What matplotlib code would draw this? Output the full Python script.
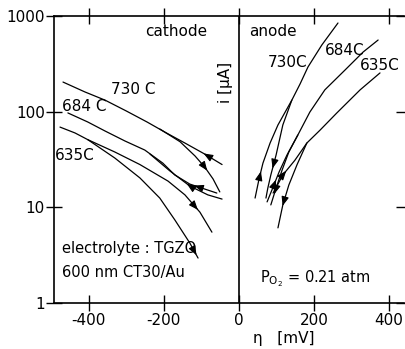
import numpy as np
import matplotlib
matplotlib.use("Agg")
import matplotlib.pyplot as plt

# ---------------- data (eta in mV, i in uA) ----------------
# cathode branches
c730a_x = [-469, -411, -357, -301, -245, -197, -144, -91, -45]
c730a_y = [204, 161, 132, 102, 78, 61, 47, 36, 28]
c730b_x = [-211, -157, -117, -91, -69, -51]
c730b_y = [65.9, 48.5, 34.4, 26.3, 19.8, 14.5]
c684a_x = [-456, -403, -357, -304, -251, -203, -171, -131, -59]
c684a_y = [97, 78, 62.8, 49.4, 39.7, 29, 21.8, 17.5, 14.1]
c684b_x = [-237, -184, -131, -83, -45]
c684b_y = [36, 24, 16.7, 13.5, 12.2]
c635a_x = [-477, -437, -403, -331, -264, -189, -144, -104, -72]
c635a_y = [69, 59.9, 51, 37.9, 28, 18.8, 13.5, 8.9, 5.5]
c635b_x = [-403, -331, -264, -211, -171, -131, -109]
c635b_y = [51, 32.8, 20.3, 12.5, 7.4, 4.24, 2.95]

# anode branches
a730u_x = [43, 53, 64, 83, 104, 141, 163, 184, 221, 264]
a730u_y = [12.5, 19.3, 29, 47, 72.6, 132, 195, 293, 498, 845]
a730d_x = [72, 77, 85, 99, 117, 141]
a730d_y = [12.5, 15.9, 21.8, 35.2, 72.6, 132]
a684u_x = [75, 88, 107, 128, 157, 189, 229, 283, 331, 371]
a684u_y = [11.4, 15.2, 23.4, 35.2, 57, 99, 169, 273, 420, 561]
a684d_x = [85, 99, 115, 133, 157]
a684d_y = [10.6, 15.9, 24.5, 37.9, 57]
a635u_x = [91, 104, 117, 149, 181, 216, 261, 323, 376]
a635u_y = [14.1, 17.5, 21.8, 31, 47, 64, 97, 169, 254]
a635d_x = [104, 117, 133, 155, 181]
a635d_y = [6.1, 10.6, 17.1, 28, 47]

yticks = [1, 10, 100, 1000]
yticklabels = ["1", "10", "100", "1000"]
xticks = [-400, -200, 0, 200, 400]
xticklabels = ["-400", "-200", "0", "200", "400"]

# ---------------- figure ----------------
fig = plt.figure(figsize=(4.05, 3.49), dpi=100)
ax = fig.add_axes([54/405, 46/349, 350/405, 287/349])
ax.set_yscale("log")
ax.set_xlim(-493, 440)
ax.set_ylim(1, 1000)

lw = 0.9
curves = [
    (c730a_x, c730a_y, 0.88, False),
    (c730b_x, c730b_y, 0.72, True),
    (c684a_x, c684a_y, 0.86, False),
    (c684b_x, c684b_y, 0.55, False),
    (c635a_x, c635a_y, 0.86, True),
    (c635b_x, c635b_y, 0.98, True),
    (a730u_x, a730u_y, 0.14, True),
    (a730d_x, a730d_y, 0.30, False),
    (a684u_x, a684u_y, 0.12, True),
    (a684d_x, a684d_y, 0.15, False),
    (a635u_x, a635u_y, 0.16, True),
    (a635d_x, a635d_y, 0.25, False),
]


def arrow_on(xs, ys, frac, forward):
    pts = ax.transData.transform(np.column_stack([xs, ys]))
    d = np.hypot(*np.diff(pts, axis=0).T)
    s = np.concatenate([[0], np.cumsum(d)])
    t = frac * s[-1]

    def at(tt):
        return np.array([np.interp(tt, s, pts[:, 0]), np.interp(tt, s, pts[:, 1])])

    p = at(t)
    q = at(t - 5) if forward else at(t + 5)
    inv = ax.transData.inverted()
    ax.annotate("", xy=inv.transform(p), xytext=inv.transform(q),
                arrowprops=dict(arrowstyle="-|>,head_length=0.55,head_width=0.22",
                                color="k", lw=0.8, shrinkA=0, shrinkB=0))


for xs, ys, frac, fwd in curves:
    ax.plot(xs, ys, color="k", lw=lw, solid_capstyle="round")
    arrow_on(xs, ys, frac, fwd)

ax.axvline(0, color="k", lw=1.2)

# spines & ticks
for side in ["left", "top", "bottom"]:
    ax.spines[side].set_linewidth(1.2)
ax.spines["right"].set_visible(False)
ax.set_xticks(xticks)
ax.set_xticklabels(xticklabels)
ax.set_yticks(yticks)
ax.set_yticklabels(yticklabels)
ax.minorticks_off()
ax.tick_params(axis="both", which="major", direction="inout", length=11,
               width=1.0, labelsize=11, top=True, right=True, pad=2)
ax.tick_params(axis="y", pad=1)

fs = 11
ax.text(-251, 681, "cathode", fontsize=fs, ha="left", va="center")
ax.text(27, 681, "anode", fontsize=fs, ha="left", va="center")
ax.text(-341, 169, "730 C", fontsize=fs, ha="left", va="center")
ax.text(-472, 112, "684 C", fontsize=fs, ha="left", va="center")
ax.text(-491, 35, "635C", fontsize=fs, ha="left", va="center")
ax.text(77, 330, "730C", fontsize=fs, ha="left", va="center")
ax.text(229, 441, "684C", fontsize=fs, ha="left", va="center")
ax.text(323, 307, "635C", fontsize=fs, ha="left", va="center")
ax.text(-472, 3.67, "electrolyte : TGZO", fontsize=10.5, ha="left", va="center")
ax.text(-472, 2.06, "600 nm CT30/Au", fontsize=10.5, ha="left", va="center")
ax.text(56, 1.66, r"P$_{\mathregular{O_2}}$ = 0.21 atm", fontsize=10.5,
        ha="left", va="baseline")
ax.text(-37, 204, "i [μA]", fontsize=fs, rotation=90, ha="center", va="center")
fig.text(284/405, 1 - 339/349, "η   [mV]", fontsize=fs, ha="center", va="center")

fig.savefig("out.png", dpi=100)
